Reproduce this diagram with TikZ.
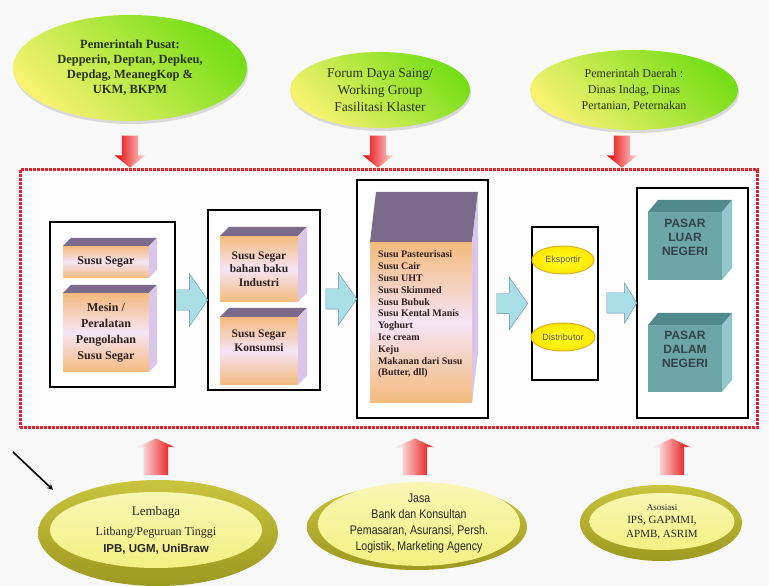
\documentclass[tikz,border=0pt]{standalone}
\usepackage{fontspec}
\setmainfont{Liberation Serif}
\setsansfont{Liberation Sans}
\newfontfamily\narrowsans{Liberation Sans}[FakeStretch=0.85]
\usetikzlibrary{
  shapes.geometric, % ellipse
  shapes.arrows,    % single arrow
  positioning,
  calc,
  shadows,
}
\definecolor{pagegray}{RGB}{248,248,248}
\definecolor{cubetop}{RGB}{123,106,140}
\definecolor{cubeside}{RGB}{218,198,234}
\definecolor{cubeorange}{RGB}{244,186,124}
\definecolor{cubelilac}{RGB}{246,228,246}
\definecolor{tealfront}{RGB}{108,166,168}
\definecolor{tealtop}{RGB}{80,138,142}
\definecolor{tealside}{RGB}{146,200,204}
\definecolor{tealtext}{RGB}{50,66,72}
\definecolor{flowcyan}{RGB}{170,222,230}
\definecolor{flowedge}{RGB}{96,146,162}
\definecolor{leafgreen}{RGB}{118,222,24}
\definecolor{leafyellow}{RGB}{246,242,112}
\definecolor{dishouter}{RGB}{196,190,40}
\definecolor{dishinner}{RGB}{244,240,130}
\definecolor{textgreen}{RGB}{40,50,12}
\definecolor{textbrown}{RGB}{45,30,30}
\definecolor{framered}{RGB}{224,34,44}
% top and right face of a box drawn on the node #1
\newcommand{\cubefaces}[5]{%
  \fill[#4] (#1.north west) -- ++(#2,#3) -- ([shift={(#2,#3)}]#1.north east)
    -- (#1.north east) -- cycle;
  \fill[#5] (#1.north east) -- ++(#2,#3) -- ([shift={(#2,#3)}]#1.south east)
    -- (#1.south east) -- cycle;
}
\tikzset{
  >=stealth,
  semithick,
  frame/.style={
    draw=framered, line width=3pt, dash pattern=on 3pt off 1pt,
    fill=white!60!pagegray, minimum width=737, minimum height=258,
    inner sep=0pt, outer sep=0pt
  },
  gov/.style={
    ellipse, inner sep=0pt, align=center, text=textgreen,
    top color=leafgreen, bottom color=leafyellow, shading angle=-45,
    drop shadow={opacity=0.25, shadow xshift=1pt, shadow yshift=-3pt}
  },
  group/.style={
    draw=black, line width=2.5pt, fill=white, inner sep=0pt, outer sep=0pt
  },
  face/.style={
    rectangle, inner sep=0pt, outer sep=0pt, align=center, text=textbrown
  },
  milk/.style={
    face, top color=cubeorange, bottom color=cubeorange, middle color=cubelilac,
    font=\bfseries\fontsize{12}{15}\selectfont
  },
  pasar/.style={
    face, fill=tealfront, text=tealtext,
    font=\sffamily\bfseries\fontsize{12}{14}\selectfont
  },
  stage/.style={
    ellipse, inner sep=0pt, draw=yellow!55!orange!85!black, line width=1pt,
    inner color=yellow!85!white, outer color=yellow!80!orange,
    minimum width=62, minimum height=28, text=black!65,
    font=\sffamily\fontsize{9}{10}\selectfont
  },
  % shaft = 2*inner ysep, head = shaft + 2*extend
  flow/.style={
    single arrow, draw=flowedge, fill=flowcyan, inner xsep=0pt, inner ysep=10pt,
    minimum height=31, single arrow head extend=16,
    single arrow tip angle=110
  },
  flow small/.style={
    flow, minimum height=30, single arrow head extend=10,
    single arrow tip angle=118
  },
  downarr/.style={
    single arrow, rotate=-90, inner xsep=0pt, inner ysep=8pt, draw=none,
    left color=red!90!black, right color=white!85!red,
    minimum height=32, single arrow head extend=7,
    single arrow tip angle=102
  },
  uparr/.style={
    single arrow, rotate=90, inner xsep=0pt, inner ysep=12pt, draw=white!80!gray,
    left color=white, right color=red!90!black,
    minimum height=37, single arrow head extend=7,
    single arrow tip angle=130
  },
  dish/.style={
    ellipse, inner sep=0pt, top color=dishouter!90!white,
    bottom color=dishouter!80!black
  },
  dishtop/.style={
    ellipse, inner sep=0pt, align=center, text=black!85,
    top color=dishinner!60!white, bottom color=dishinner
  },
}
\begin{document}
\begin{tikzpicture}[x=1pt,y=1pt]
\useasboundingbox (0,0) rectangle (769,586);
\fill[pagegray] (0,0) rectangle (769,586);

\node[frame] (frame) at (388.5,287) {};

% bodies above the cluster
\node[gov, minimum width=234, minimum height=106,
      font=\bfseries\fontsize{12.5}{15}\selectfont] (pusat) at (130,518)
  {Pemerintah Pusat:\\Depperin, Deptan, Depkeu,\\Depdag, MeanegKop \&\\UKM, BKPM};
\node[gov, minimum width=180, minimum height=76,
      font=\fontsize{13.5}{17}\selectfont] (forum) at (380,496)
  {Forum Daya Saing/\\Working Group\\Fasilitasi Klaster};
\node[gov, minimum width=208, minimum height=80,
      font=\fontsize{12}{16}\selectfont] (daerah) at (634,496)
  {Pemerintah Daerah :\\Dinas Indag, Dinas\\Pertanian, Peternakan};

\node[downarr, anchor=tip] (d1) at ([yshift=2]frame.north -| pusat) {};
\node[downarr, anchor=tip] (d2) at ([xshift=-2,yshift=2]frame.north -| forum) {};
\node[downarr, anchor=tip] (d3) at ([xshift=-12,yshift=2]frame.north -| daerah) {};

% the five stages
\node[group, minimum width=125, minimum height=165] (g1) at (112.5,281.5) {};
\node[group, minimum width=112, minimum height=180] (g2) at (264,286) {};
\node[group, minimum width=131, minimum height=238] (g3) at (422.5,287) {};
\node[group, minimum width=66,  minimum height=153] (g4) at (565,282.5) {};
\node[group, minimum width=111, minimum height=230] (g5) at (692.5,283) {};

\node[milk, minimum width=86, minimum height=32] (segar) at (106,324) {Susu Segar};
\cubefaces{segar}{8}{8}{cubetop}{cubeside}
\node[milk, minimum width=86, minimum height=79, font=\bfseries\fontsize{12}{16}\selectfont]
  (mesin) at (106,253.5) {Mesin /\\Peralatan\\Pengolahan\\Susu Segar};
\cubefaces{mesin}{8}{8}{cubetop}{cubeside}

\node[milk, minimum width=78, minimum height=66, font=\bfseries\fontsize{11.5}{13.5}\selectfont]
  (industri) at (259,317) {Susu Segar\\bahan baku\\Industri};
\cubefaces{industri}{9}{9}{cubetop}{cubeside}
\node[milk, minimum width=78, minimum height=68, font=\bfseries\fontsize{11.5}{14}\selectfont]
  (konsumsi) at (259,235) {Susu Segar\\Konsumsi\\[6pt]};
\cubefaces{konsumsi}{9}{9}{cubetop}{cubeside}

\node[milk, minimum width=102, minimum height=161] (produk) at (421,263.5) {};
\cubefaces{produk}{6}{50}{cubetop}{cubeside}
\node[face, anchor=north west, align=left, font=\bfseries\fontsize{10}{11.8}\selectfont]
  (daftar) at ([shift={(8,-9)}]produk.north west)
  {Susu Pasteurisasi\\Susu Cair\\Susu UHT\\Susu Skimmed\\Susu Bubuk\\
   Susu Kental Manis\\Yoghurt\\Ice cream\\Keju\\Makanan dari Susu\\(Butter, dll)};

\node[stage] (ekspor) at (563,326) {Eksportir};
\node[stage, minimum width=64] (distrib) at (563,249) {Distributor};

\node[pasar, minimum width=74, minimum height=68] (luar) at (685,340) {PASAR\\LUAR\\NEGERI\\[4pt]};
\cubefaces{luar}{10}{12}{tealtop}{tealside}
\node[pasar, minimum width=74, minimum height=67] (dalam) at (685,227.5) {PASAR\\DALAM\\NEGERI\\[4pt]};
\cubefaces{dalam}{10}{12}{tealtop}{tealside}

\node[flow, anchor=tip] (f1) at (g2.west) {};
\node[flow, anchor=tip] (f2) at (g3.west) {};
\node[flow, anchor=tip] (f3) at ([xshift=-4]g4.west) {};
\node[flow small, anchor=tip] (f4) at (g5.west) {};

% supporting bodies below
\node[dish, minimum width=240, minimum height=106] (lembaga) at (158,53) {};
\node[dishtop, minimum width=212, minimum height=76, font=\fontsize{12}{14}\selectfont]
  (lembagatop) at (156,56)
  {{\fontsize{13}{14}\selectfont Lembaga}\\[6pt]
   Litbang/Peguruan Tinggi\\[3pt]
   {\sffamily\bfseries\fontsize{11.5}{14}\selectfont IPB, UGM, UniBraw}};
\node[dish, minimum width=220, minimum height=86] (jasa) at (417,59) {};
\node[dishtop, minimum width=202, minimum height=72, font=\narrowsans\fontsize{12.5}{16}\selectfont]
  (jasatop) at (419,62)
  {Jasa\\Bank dan Konsultan\\Pemasaran, Asuransi, Persh.\\Logistik, Marketing Agency};
\node[dish, minimum width=162, minimum height=76] (asosiasi) at (661,63) {};
\node[dishtop, minimum width=145, minimum height=57, font=\fontsize{11}{13.5}\selectfont]
  (asosiasitop) at (662,64.5)
  {{\fontsize{9}{13.5}\selectfont Asosiasi}\\IPS, GAPMMI,\\APMB, ASRIM};

\node[uparr, anchor=tip] (u1) at ([xshift=-2,yshift=-10]frame.south -| lembaga) {};
\node[uparr, anchor=tip] (u2) at ([xshift=-2,yshift=-10]frame.south -| jasa) {};
\node[uparr, anchor=tip] (u3) at ([xshift=11,yshift=-10]frame.south -| asosiasi) {};

\coordinate (ptr) at (13,134);
\draw[->, line width=1.6pt] (ptr) -- ([shift={(-20,5.5)}]lembaga.north west);
\end{tikzpicture}
\end{document}
